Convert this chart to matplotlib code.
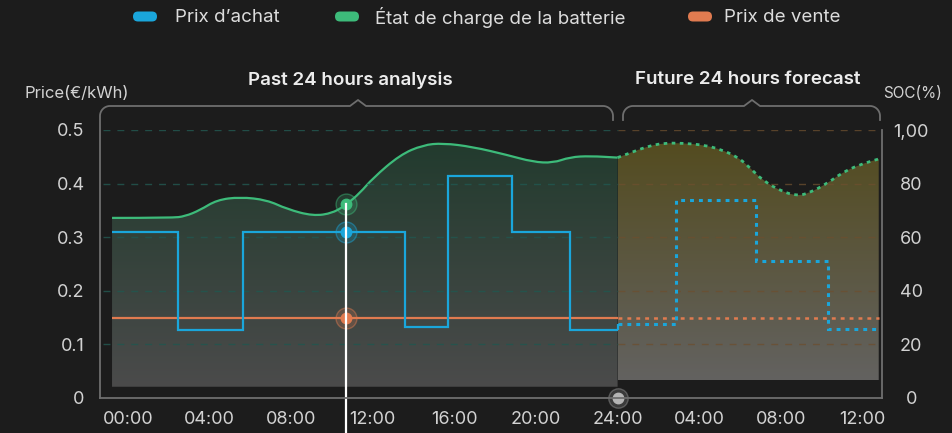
import numpy as np
import matplotlib
matplotlib.use("Agg")
import matplotlib.pyplot as plt
import matplotlib.colors as mcolors
from matplotlib.patches import FancyBboxPatch, PathPatch
from matplotlib.path import Path

plt.rcParams['font.family'] = ['Inter', 'DejaVu Sans']
plt.rcParams['lines.scale_dashes'] = False

# data
series_names = ["Prix d\u2019achat", "\u00c9tat de charge de la batterie", "Prix de vente"]

# state of charge (%), past 24 h and forecast
soc_past_h = [-0.78, 2.16, 2.8, 3.53, 4.36, 5.49, 6.81, 7.79, 9.07, 10.05, 10.74,
              11.37, 12.0, 13.33, 14.46, 15.44, 16.9, 18.58, 19.85, 20.83, 21.67,
              22.65, 24.0]
soc_past = [67.2, 67.2, 67.8, 70.1, 73.9, 75.0, 73.9, 70.5, 67.9, 69.0, 72.4,
            76.5, 82.0, 90.7, 94.4, 95.1, 93.7, 90.7, 88.1, 87.7, 89.9,
            90.3, 89.7]
soc_fut_h = [24.0, 24.6, 25.4, 26.2, 27.2, 28.2, 29.0, 29.9, 30.5, 31.1, 32.0,
             32.8, 33.4, 34.3, 35.0, 35.8, 36.8]
soc_fut = [89.7, 91.4, 93.7, 95.1, 95.1, 94.4, 92.9, 89.9, 85.8, 81.3, 77.2,
           75.4, 76.5, 80.2, 84.0, 86.9, 89.2]
soc_floor_past = 4.2
soc_floor_fut = 6.7

# buy price (EUR/kWh), step edges in hours
buy_edges = [-0.78, 2.47, 5.65, 13.58, 15.70, 18.84, 21.67, 24.0, 26.86, 30.77, 34.3, 36.86]
buy_prices = [0.31, 0.127, 0.31, 0.133, 0.414, 0.31, 0.127, 0.138, 0.369, 0.256, 0.129]
n_past_steps = 7

# sell price
sell_edges = [-0.78, 24.0, 36.8]
sell_prices = [0.15, 0.15]

# cursor
cursor_h = 10.7
cursor_soc = 72.4
cursor_buy = 0.31
cursor_sell = 0.15

x_ticks = [0, 4, 8, 12, 16, 20, 24, 28, 32, 36]
x_labels = ["00:00", "04:00", "08:00", "12:00", "16:00", "20:00", "24:00",
            "04:00", "08:00", "12:00"]
price_ticks = [0, 0.1, 0.2, 0.3, 0.4, 0.5]
price_labels = ["0", "0.1", "0.2", "0.3", "0.4", "0.5"]
soc_ticks = [0, 20, 40, 60, 80, 100]
soc_labels = ["0", "20", "40", "60", "80", "1,00"]

BG = "#1c1c1c"
BLUE = "#1aa6db"
GREEN = "#3dbb7a"
ORANGE = "#e07b50"
FRAME = "#6e6e6e"
TXT = "#d2d2d2"

W, H = 952, 433
fig = plt.figure(figsize=(W / 100, H / 100), dpi=100, facecolor=BG)
ax = fig.add_axes([100 / W, 35 / H, 782 / W, 268 / H])
ax2 = ax.twinx()
ax.set_zorder(ax2.get_zorder() + 1)
ax.patch.set_visible(False)
ax2.patch.set_visible(False)


def smooth(x, y):
    # quadratic bezier path using the read points as control points
    pts = np.column_stack([x, y])
    verts = [pts[0]]
    codes = [Path.MOVETO]
    for i in range(1, len(pts) - 1):
        verts += [pts[i], (pts[i] + pts[i + 1]) / 2]
        codes += [Path.CURVE3, Path.CURVE3]
    verts.append(pts[-1])
    codes.append(Path.LINETO)
    return verts, codes


def soc_area(axis, x, y, floor, top_col, bot_col, **line_kw):
    verts, codes = smooth(x, y)
    area = Path(verts + [(x[-1], floor), (x[0], floor), (x[0], y[0])],
                codes + [Path.LINETO, Path.LINETO, Path.CLOSEPOLY])
    t = np.linspace(0, 1, 256)[:, None, None]
    top = np.array(mcolors.to_rgb(top_col))[None, None, :]
    bot = np.array(mcolors.to_rgb(bot_col))[None, None, :]
    img = top * (1 - t) + bot * t
    im = axis.imshow(img, extent=[min(x), max(x), floor, max(y)], origin='upper',
                     aspect='auto', zorder=1, interpolation='bilinear')
    im.set_clip_path(area, transform=axis.transData)
    axis.add_patch(PathPatch(Path(verts, codes), facecolor='none', edgecolor=GREEN,
                             zorder=3, **line_kw))


# SOC on the right axis
soc_area(ax2, soc_past_h, soc_past, soc_floor_past, "#223b2e", "#4b4b4b", lw=1.6)
soc_area(ax2, soc_fut_h, soc_fut, soc_floor_fut, "#544c20", "#636260", lw=2.0,
         linestyle=(0, (2.6, 3.2)))
ax2.plot(cursor_h, cursor_soc, 'o', ms=15, mfc=mcolors.to_rgba(GREEN, 0.22),
         mec=mcolors.to_rgba(GREEN, 0.45), mew=1.0, zorder=4)
ax2.plot(cursor_h, cursor_soc, 'o', ms=7.5, color=GREEN, zorder=5)

# grid lines, teal on the past side and brown on the forecast side
ax.hlines(price_ticks[1:], -1.23, 24.0, colors="#22564f", lw=1.0, alpha=0.85,
          linestyles=(0, (5, 5)), zorder=1)
ax.hlines(price_ticks[1:], 24.0, 36.96, colors="#6d4f2f", lw=1.0, alpha=0.75,
          linestyles=(0, (5, 5)), zorder=1)

# sell price
ax.stairs(sell_prices[:1], sell_edges[:2], baseline=None, color=ORANGE, lw=1.6, zorder=2)
ax.stairs(sell_prices[1:], sell_edges[1:], baseline=None, color=ORANGE, lw=1.8, zorder=2,
          linestyle=(0, (2.8, 3.6)))

# buy price
ax.stairs(buy_prices[:n_past_steps], buy_edges[:n_past_steps + 1], baseline=None,
          color=BLUE, lw=1.6, zorder=3)
ax.vlines(buy_edges[n_past_steps], buy_prices[n_past_steps - 1], buy_prices[n_past_steps],
          color=BLUE, lw=1.6, zorder=3)
ax.stairs(buy_prices[n_past_steps:], buy_edges[n_past_steps:], baseline=None,
          color=BLUE, lw=2.2, zorder=3, linestyle=(0, (2.8, 3.6)))

# cursor markers
for val, col in [(cursor_buy, BLUE), (cursor_sell, ORANGE)]:
    ax.plot(cursor_h, val, 'o', ms=15, mfc=mcolors.to_rgba(col, 0.22),
            mec=mcolors.to_rgba(col, 0.45), mew=1.0, zorder=5)
    ax.plot(cursor_h, val, 'o', ms=7.5, color=col, zorder=6)
ax.plot([cursor_h, cursor_h], [-0.07, cursor_soc * 0.5 / 100], color='white', lw=1.6,
        zorder=7, clip_on=False)
ax.plot(24.0, 0, 'o', ms=14, mfc=(0.7, 0.7, 0.7, 0.2), mec=(0.7, 0.7, 0.7, 0.35),
        mew=1.0, zorder=6, clip_on=False)
ax.plot(24.0, 0, 'o', ms=7.5, color="#b4b4b4", zorder=7, clip_on=False)

ax.set_xlim(-1.37, 36.96)
ax.set_ylim(0, 0.5)
ax2.set_ylim(0, 100)
for a in (ax, ax2):
    for s in a.spines.values():
        s.set_visible(False)

ax.set_xticks(x_ticks)
ax.set_xticklabels(x_labels)
ax.set_yticks(price_ticks)
ax.set_yticklabels(price_labels)
ax.tick_params(axis='x', length=0, pad=9, labelsize=13, labelcolor=TXT)
ax.tick_params(axis='y', length=0, pad=11, labelsize=13, labelcolor=TXT)
ax2.set_yticks(soc_ticks)
ax2.set_yticklabels(soc_labels)
ax2.tick_params(axis='y', length=0, pad=21, labelsize=13, labelcolor=TXT)
for lbl in ax2.get_yticklabels():
    lbl.set_horizontalalignment('center')

# overlay in pixel units for frame, brackets, titles and legend
ov = fig.add_axes([0, 0, 1, 1])
ov.set_xlim(0, W)
ov.set_ylim(H, 0)
ov.axis('off')
ov.set_zorder(10)


def bracket(x0, x1, peak, y_left, y_right, y_top=106, r=10, notch=8, h=6):
    phi = np.linspace(0, np.pi / 2, 20)
    xs = [x0, x0]
    ys = [y_left, y_top + r]
    xs += list(x0 + r - r * np.cos(phi))
    ys += list(y_top + r - r * np.sin(phi))
    xs += [peak - notch, peak, peak + notch]
    ys += [y_top, y_top - h, y_top]
    xs += list(x1 - r + r * np.sin(phi))
    ys += list(y_top + r - r * np.cos(phi))
    xs += [x1]
    ys += [y_right]
    ov.plot(xs, ys, color=FRAME, lw=1.3, solid_joinstyle='round')


bracket(100, 613, 358, 398, 120)
bracket(623, 880, 752, 120, 120)
ov.plot([100, 882], [398, 398], color=FRAME, lw=1.3)
ov.plot([882, 882], [130, 398], color=FRAME, lw=1.3)

ov.text(350, 80, "Past 24 hours analysis", ha='center', va='center', fontsize=13.5,
        fontweight='semibold', color="#ececec")
ov.text(748, 80, "Future 24 hours forecast", ha='center', va='center', fontsize=13.5,
        fontweight='semibold', color="#ececec")
ov.text(25, 93, "Price(\u20ac/kWh)", ha='left', va='center', fontsize=12, color=TXT)
ov.text(883, 93, "SOC(%)", ha='left', va='center', fontsize=11, color=TXT)

legend_cols = [BLUE, GREEN, ORANGE]
pill_x = [133, 335, 688]
text_x = [175, 375, 724]
for name, col, px, tx in zip(series_names, legend_cols, pill_x, text_x):
    ov.add_patch(FancyBboxPatch((px, 11.5), 24, 10, boxstyle="round,pad=0,rounding_size=5",
                                facecolor=col, edgecolor='none'))
    ov.text(tx, 17, name, ha='left', va='center', fontsize=13.5, color="#dcdcdc")

fig.savefig("out.png", dpi=100, facecolor=BG)
